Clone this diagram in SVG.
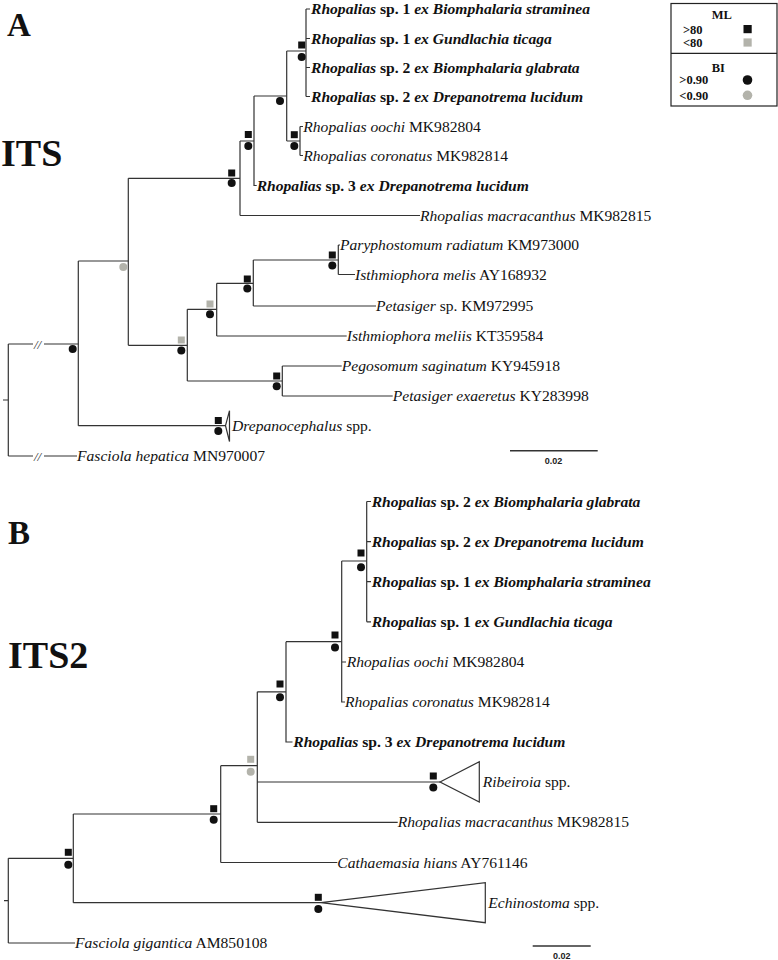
<svg xmlns="http://www.w3.org/2000/svg" width="778" height="960" viewBox="0 0 778 960">
<style>
.br{fill:none;stroke:#333;stroke-width:1.2}
.sb{fill:none;stroke:#333;stroke-width:1.5}
.tri{fill:#fff;stroke:#333;stroke-width:1.2}
.lb{font-family:"Liberation Serif","Times New Roman",serif;font-size:15.6px;fill:#111}
.bd{font-weight:bold}
.it{font-style:italic}
.big{font-family:"Liberation Serif","Times New Roman",serif;font-weight:bold;fill:#111}
.lg{font-family:"Liberation Serif","Times New Roman",serif;font-weight:bold;font-size:12.5px;fill:#111}
.sc{font-family:"Liberation Sans",Arial,sans-serif;font-weight:bold;font-size:9px;fill:#222}
.brk{font-family:"Liberation Serif","Times New Roman",serif;font-style:italic;font-size:13px;fill:#333}
.k{fill:#111}
.g{fill:#b3b3ab}
</style>

<g id="panel-labels">
<text class="big" x="7" y="36" font-size="33">A</text>
<text class="big" x="1" y="166" font-size="38">ITS</text>
<text class="big" x="8" y="544" font-size="33">B</text>
<text class="big" x="8" y="668" font-size="38">ITS2</text>
</g>

<g id="legend">
<rect x="671" y="3.5" width="106" height="102.5" fill="#fff" stroke="#222" stroke-width="1.2"/>
<line x1="671" y1="53.3" x2="777" y2="53.3" stroke="#222" stroke-width="1.2"/>
<text class="lg" x="721.7" y="18.5" text-anchor="middle" font-size="13">ML</text>
<text class="lg" x="683" y="33.5">&gt;80</text>
<text class="lg" x="683" y="47">&lt;80</text>
<rect class="k" x="743.5" y="25" width="8.2" height="8.2"/>
<rect class="g" x="743.5" y="38.4" width="8.2" height="8.2"/>
<text class="lg" x="718.3" y="71.5" text-anchor="middle" font-size="13">BI</text>
<text class="lg" x="679.3" y="84">&gt;0.90</text>
<text class="lg" x="679.3" y="100">&lt;0.90</text>
<circle class="k" cx="747.5" cy="80" r="4.8"/>
<circle class="g" cx="747.5" cy="95.3" r="4.8"/>
</g>

<g id="connectors">
<!-- Tree A -->
<path class="br" d="M3,400H8.3M8.3,344V456M8.3,344H33M44,344H78.3M8.3,456H33M44,456H77"/>
<path class="br" d="M78.3,261V425.7M78.3,261H128.3M78.3,425.7H225.5"/>
<path class="br" d="M128.3,178.3V345.3M128.3,178.3H240M128.3,345.3H187.3"/>
<path class="br" d="M240,141V215.5M240,141H254M240,215.5H420"/>
<path class="br" d="M254,96V185.5H256.7M254,96H286.7"/>
<path class="br" d="M286.7,51V141M286.7,51H306M286.7,141H300"/>
<path class="br" d="M306,9V96.5M306,9H310M306,38.5H310M306,67.5H310M306,96.5H310"/>
<path class="br" d="M300,126.5V155.5M300,126.5H303M300,155.5H303"/>
<path class="br" d="M187.3,309.3V381M187.3,309.3H216.7M187.3,381H282.3"/>
<path class="br" d="M216.7,283.3V336M216.7,283.3H253.3M216.7,336H346.7"/>
<path class="br" d="M253.3,260V306M253.3,260H338.3M253.3,306H376"/>
<path class="br" d="M338.3,245V274.5M338.3,245H340M338.3,274.5H355"/>
<path class="br" d="M282.3,366V396M282.3,366H341.7M282.3,396H392.7"/>
<!-- Tree B -->
<path class="br" d="M4,900.7H8.3M8.3,858.3V943M8.3,858.3H73.3M8.3,943H75"/>
<path class="br" d="M73.3,814V902.7M73.3,814H220.7M73.3,902.7H321"/>
<path class="br" d="M220.7,765.7V862.5M220.7,765.7H257.3M220.7,862.5H337.3"/>
<path class="br" d="M257.3,691.8V822.3M257.3,691.8H286M257.3,782H440M257.3,822.3H397.7"/>
<path class="br" d="M286,641.7V742H292.5M286,641.7H341.7"/>
<path class="br" d="M341.7,561V702H345M341.7,561H366.7M341.7,662H346"/>
<path class="br" d="M366.7,501.5V621.8M366.7,501.5H371M366.7,541.6H371M366.7,581.7H371M366.7,621.8H371"/>
</g>

<g id="breaks">
<text class="brk" x="34" y="348.5">//</text>
<text class="brk" x="34" y="460.5">//</text>
</g>

<g id="collapsed">
<polygon id="drepanocephalus-tri" class="tri" points="225.5,425.7 229.5,410.7 229.5,441.5"/>
<polygon id="ribeiroia-tri" class="tri" points="440,782 479.3,761.7 479.3,802"/>
<polygon id="echinostoma-tri" class="tri" points="321,902.7 485.3,882.7 485.3,922.7"/>
</g>

<g id="support">
<!-- Tree A -->
<rect class="k" x="298.2" y="41.5" width="7" height="7"/><circle class="k" cx="301.7" cy="57" r="4"/>
<circle class="k" cx="280" cy="101" r="4"/>
<rect class="k" x="290.8" y="131.2" width="7" height="7"/><circle class="k" cx="294.3" cy="146" r="4"/>
<rect class="k" x="244.8" y="131" width="7" height="7"/><circle class="k" cx="248.3" cy="146" r="4"/>
<rect class="k" x="228.2" y="169.5" width="7" height="7"/><circle class="k" cx="231.7" cy="183" r="4"/>
<circle class="g" cx="123.3" cy="267" r="4"/>
<circle class="k" cx="72.7" cy="349" r="4"/>
<rect class="g" x="177.8" y="336.5" width="7" height="7"/><circle class="k" cx="181.3" cy="350.5" r="4"/>
<rect class="g" x="206.5" y="300.5" width="7" height="7"/><circle class="k" cx="210" cy="314.3" r="4"/>
<rect class="k" x="243.8" y="275.5" width="7" height="7"/><circle class="k" cx="247.3" cy="288.5" r="4"/>
<rect class="k" x="328.8" y="251.5" width="7" height="7"/><circle class="k" cx="332.3" cy="265.5" r="4"/>
<rect class="k" x="273.2" y="372.5" width="7" height="7"/><circle class="k" cx="276.7" cy="386.3" r="4"/>
<rect class="k" x="214.8" y="417" width="7" height="7"/><circle class="k" cx="218.3" cy="431" r="4"/>
<!-- Tree B -->
<rect class="k" x="357.5" y="549.5" width="7" height="7"/><circle class="k" cx="361" cy="567.3" r="4"/>
<rect class="k" x="331.5" y="631.5" width="7" height="7"/><circle class="k" cx="335" cy="647.5" r="4"/>
<rect class="k" x="276.5" y="680.5" width="7" height="7"/><circle class="k" cx="280" cy="697.3" r="4"/>
<rect class="g" x="247.2" y="755.8" width="7" height="7"/><circle class="g" cx="250.7" cy="771.7" r="4"/>
<rect class="k" x="429.8" y="772.5" width="7" height="7"/><circle class="k" cx="433.3" cy="787.5" r="4"/>
<rect class="k" x="210.2" y="805.2" width="7" height="7"/><circle class="k" cx="213.7" cy="819.7" r="4"/>
<rect class="k" x="64.8" y="848.8" width="7" height="7"/><circle class="k" cx="68.3" cy="864.7" r="4"/>
<rect class="k" x="314.8" y="893.8" width="7" height="7"/><circle class="k" cx="318.3" cy="909" r="4"/>
</g>

<g id="tree-A-leaves">
<g id="a-sp1-straminea"><text class="lb bd" x="311" y="14"><tspan class="it">Rhopalias</tspan> sp. 1 <tspan class="it">ex Biomphalaria straminea</tspan></text></g>
<g id="a-sp1-ticaga"><text class="lb bd" x="311" y="43.5"><tspan class="it">Rhopalias</tspan> sp. 1 <tspan class="it">ex Gundlachia ticaga</tspan></text></g>
<g id="a-sp2-glabrata"><text class="lb bd" x="311" y="72.5"><tspan class="it">Rhopalias</tspan> sp. 2 <tspan class="it">ex Biomphalaria glabrata</tspan></text></g>
<g id="a-sp2-lucidum"><text class="lb bd" x="311" y="101.5"><tspan class="it">Rhopalias</tspan> sp. 2 <tspan class="it">ex Drepanotrema lucidum</tspan></text></g>
<g id="a-oochi"><text class="lb" x="303.3" y="131.5"><tspan class="it">Rhopalias oochi</tspan> MK982804</text></g>
<g id="a-coronatus"><text class="lb" x="303.3" y="160.5"><tspan class="it">Rhopalias coronatus</tspan> MK982814</text></g>
<g id="a-sp3-lucidum"><text class="lb bd" x="256.7" y="190.5"><tspan class="it">Rhopalias</tspan> sp. 3 <tspan class="it">ex Drepanotrema lucidum</tspan></text></g>
<g id="a-macracanthus"><text class="lb" x="420" y="220.5"><tspan class="it">Rhopalias macracanthus</tspan> MK982815</text></g>
<g id="a-paryphostomum"><text class="lb" x="340" y="250"><tspan class="it">Paryphostomum radiatum</tspan> KM973000</text></g>
<g id="a-isthmiophora-melis"><text class="lb" x="355" y="279.5"><tspan class="it">Isthmiophora melis</tspan> AY168932</text></g>
<g id="a-petasiger-sp"><text class="lb" x="376" y="311"><tspan class="it">Petasiger</tspan> sp. KM972995</text></g>
<g id="a-isthmiophora-meliis"><text class="lb" x="346.7" y="341"><tspan class="it">Isthmiophora meliis</tspan> KT359584</text></g>
<g id="a-pegosomum"><text class="lb" x="341.7" y="371"><tspan class="it">Pegosomum saginatum</tspan> KY945918</text></g>
<g id="a-petasiger-exaeretus"><text class="lb" x="392.7" y="401"><tspan class="it">Petasiger exaeretus</tspan> KY283998</text></g>
<g id="a-drepanocephalus"><text class="lb" x="232" y="430.7"><tspan class="it">Drepanocephalus</tspan> spp.</text></g>
<g id="a-fasciola"><text class="lb" x="77" y="461"><tspan class="it">Fasciola hepatica</tspan> MN970007</text></g>
</g>

<g id="tree-B-leaves">
<g id="b-sp2-glabrata"><text class="lb bd" x="371.7" y="506.5"><tspan class="it">Rhopalias</tspan> sp. 2 <tspan class="it">ex Biomphalaria glabrata</tspan></text></g>
<g id="b-sp2-lucidum"><text class="lb bd" x="371.7" y="546.6"><tspan class="it">Rhopalias</tspan> sp. 2 <tspan class="it">ex Drepanotrema lucidum</tspan></text></g>
<g id="b-sp1-straminea"><text class="lb bd" x="371.7" y="586.7"><tspan class="it">Rhopalias</tspan> sp. 1 <tspan class="it">ex Biomphalaria straminea</tspan></text></g>
<g id="b-sp1-ticaga"><text class="lb bd" x="371.7" y="626.8"><tspan class="it">Rhopalias</tspan> sp. 1 <tspan class="it">ex Gundlachia ticaga</tspan></text></g>
<g id="b-oochi"><text class="lb" x="346.7" y="667"><tspan class="it">Rhopalias oochi</tspan> MK982804</text></g>
<g id="b-coronatus"><text class="lb" x="345" y="707"><tspan class="it">Rhopalias coronatus</tspan> MK982814</text></g>
<g id="b-sp3-lucidum"><text class="lb bd" x="293.3" y="747"><tspan class="it">Rhopalias</tspan> sp. 3 <tspan class="it">ex Drepanotrema lucidum</tspan></text></g>
<g id="b-ribeiroia"><text class="lb" x="482.7" y="787"><tspan class="it">Ribeiroia</tspan> spp.</text></g>
<g id="b-macracanthus"><text class="lb" x="397.7" y="827.3"><tspan class="it">Rhopalias macracanthus</tspan> MK982815</text></g>
<g id="b-cathaemasia"><text class="lb" x="337.3" y="867.5"><tspan class="it">Cathaemasia hians</tspan> AY761146</text></g>
<g id="b-echinostoma"><text class="lb" x="488.3" y="907.7"><tspan class="it">Echinostoma</tspan> spp.</text></g>
<g id="b-fasciola"><text class="lb" x="75" y="948"><tspan class="it">Fasciola gigantica</tspan> AM850108</text></g>
</g>

<g id="scale-bars">
<line class="sb" x1="510" y1="450.7" x2="597.7" y2="450.7"/>
<text class="sc" x="553.5" y="464" text-anchor="middle">0.02</text>
<line class="sb" x1="532.7" y1="946" x2="590.7" y2="946"/>
<text class="sc" x="561.7" y="958.5" text-anchor="middle">0.02</text>
</g>
</svg>
